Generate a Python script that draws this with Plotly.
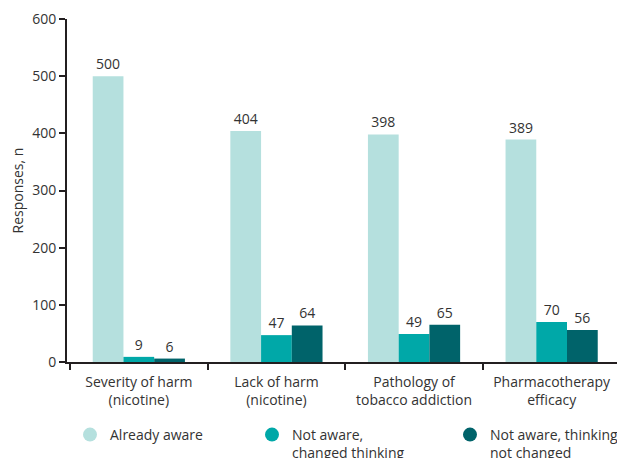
import plotly.graph_objects as go

categories = ["Severity of harm<br>(nicotine)", "Lack of harm<br>(nicotine)",
              "Pathology of<br>tobacco addiction", "Pharmacotherapy<br>efficacy"]
series_names = ["Already aware", "Not aware,<br>changed thinking", "Not aware, thinking<br>not changed"]
already_aware = [500, 404, 398, 389]
changed_thinking = [9, 47, 49, 70]
not_changed = [6, 64, 65, 56]
colors = ["#b5e0de", "#00a8a8", "#00636a"]

FONT = "'Open Sans', 'Noto Sans', sans-serif"
TXT = "#333333"
FS = 14
fig = go.Figure()
for name, vals, col in zip(series_names, [already_aware, changed_thinking, not_changed], colors):
    fig.add_trace(go.Bar(x=categories, y=vals, marker_color=col, marker_line_width=0,
                         text=[str(v) for v in vals], textposition="outside",
                         textfont=dict(size=FS, color=TXT, family=FONT),
                         cliponaxis=False, showlegend=False, name=name))

legend_ids = ["legend", "legend2", "legend3"]
for name, col, lid in zip(series_names, colors, legend_ids):
    fig.add_trace(go.Scatter(x=[0], y=[0], mode="markers", name=name,
                             marker=dict(symbol="circle", size=14, color=col),
                             xaxis="x2", yaxis="y2",
                             legend=lid, showlegend=True, hoverinfo="skip"))

legend_common = dict(orientation="v", xref="container", yref="container",
                     yanchor="top", xanchor="left", valign="top",
                     font=dict(size=FS, color=TXT, family=FONT),
                     bgcolor="rgba(0,0,0,0)", borderwidth=0)
lx = [70 / 617, 252 / 617, 450 / 617]
ly = 1 - 419 / 458
fig.update_layout(
    legend=dict(x=lx[0], y=ly, **legend_common),
    legend2=dict(x=lx[1], y=ly, **legend_common),
    legend3=dict(x=lx[2], y=ly, **legend_common),
)

fig.add_annotation(text="Responses, n", xref="paper", yref="paper",
                   x=-50 / 550, y=0.5, textangle=-90, showarrow=False,
                   xanchor="center", yanchor="middle",
                   font=dict(size=FS, color=TXT, family=FONT))

fig.update_layout(
    width=617, height=458,
    margin=dict(l=67, r=0, t=19, b=96, autoexpand=False),
    paper_bgcolor="white", plot_bgcolor="white",
    barmode="group", bargap=0.33, bargroupgap=0,
    font=dict(family=FONT, size=FS, color=TXT),
    xaxis=dict(range=[-0.522, 3.475], showline=True, linecolor="#231f20", linewidth=2,
               ticks="outside", tickson="boundaries", ticklen=6, tickwidth=2,
               tickcolor="#231f20", ticklabelstandoff=6,
               showgrid=False, tickfont=dict(size=FS, color=TXT), automargin=False),
    yaxis=dict(range=[0, 600], dtick=100, showline=True, linecolor="#231f20", linewidth=2,
               ticks="outside", ticklen=6, tickwidth=2, tickcolor="#231f20",
               showgrid=False, zeroline=False, automargin=False,
               tickfont=dict(size=FS, color=TXT)),
    xaxis2=dict(overlaying="x", range=[10, 11], visible=False, showgrid=False, zeroline=False),
    yaxis2=dict(overlaying="y", range=[10, 11], visible=False, showgrid=False, zeroline=False),
)
fig.write_html("out.html")
